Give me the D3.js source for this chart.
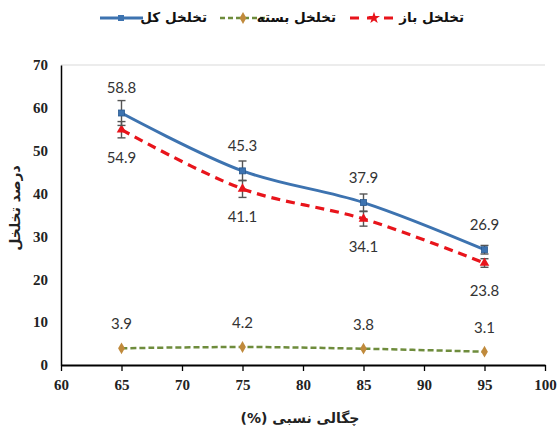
<!DOCTYPE html>
<html><head><meta charset="utf-8">
<script src="https://cdn.jsdelivr.net/npm/d3@7"></script>
<style>body{margin:0;background:#fff}svg{display:block}</style>
</head><body>
<script>
const densities = [65, 75, 85, 95];
const totalPorosity = [58.8, 45.3, 37.9, 26.9];
const totalErr = [2.9, 2.3, 2.0, 1.0];
const openPorosity = [54.9, 41.1, 34.1, 23.8];
const openErr = [1.9, 2.0, 1.7, 1.0];
const closedPorosity = [3.9, 4.2, 3.8, 3.1];
const xTicks = [60, 65, 70, 75, 80, 85, 90, 95, 100];
const yTicks = [0, 10, 20, 30, 40, 50, 60, 70];
const seriesNames = ["تخلخل کل", "تخلخل بسته", "تخلخل باز"];

const W = 560, H = 435;
const svg = d3.select("body").append("svg").attr("width", W).attr("height", H);
const x = d3.scaleLinear().domain([60, 100]).range([61, 545]);
const y = d3.scaleLinear().domain([0, 70]).range([365, 65]);

const serif = "'Liberation Serif','Times New Roman',serif";
const lab = "Lato,'Open Sans',sans-serif";
const fa = "'DejaVu Sans',sans-serif";

// top light line
svg.append("line").attr("x1", x(60)).attr("x2", x(100)).attr("y1", y(70)).attr("y2", y(70))
  .attr("stroke", "#d9d9d9").attr("stroke-width", 1);

// y axis
const ya = svg.append("g").attr("transform", `translate(${x(60)},0)`)
  .call(d3.axisLeft(y).tickValues(yTicks).tickSize(0).tickPadding(13));
ya.select(".domain").attr("stroke", "#000").attr("stroke-width", 1.5);
ya.selectAll("text").attr("font-family", serif).attr("font-weight", "bold")
  .attr("font-size", 15).attr("fill", "#222");

// x axis
const xa = svg.append("g").attr("transform", `translate(0,${y(0)})`)
  .call(d3.axisBottom(x).tickValues(xTicks).tickSizeInner(6).tickSizeOuter(0).tickPadding(8));
xa.select(".domain").attr("stroke", "#000").attr("stroke-width", 2.2);
xa.selectAll(".tick line").attr("stroke", "#000").attr("stroke-width", 1.3);
xa.selectAll("text").attr("font-family", serif).attr("font-weight", "bold")
  .attr("font-size", 15).attr("fill", "#222");

// axis titles
svg.append("text").attr("x", 300).attr("y", 423).attr("text-anchor", "middle")
  .attr("font-family", fa).attr("font-weight", "bold").attr("font-size", 14)
  .attr("fill", "#222").attr("direction", "rtl").text("چگالی نسبی (%)");
svg.append("text").attr("transform", "translate(20,208) rotate(-90)").attr("text-anchor", "middle")
  .attr("font-family", fa).attr("font-weight", "bold").attr("font-size", 14)
  .attr("fill", "#222").attr("direction", "rtl").text("درصد تخلخل");

const line = d3.line().x((d, i) => x(densities[i])).y(d => y(d)).curve(d3.curveCatmullRom.alpha(0.5));

// error bars
function errBars(vals, errs) {
  const g = svg.append("g");
  vals.forEach((v, i) => {
    const cx = x(densities[i]);
    g.append("line").attr("x1", cx).attr("x2", cx).attr("y1", y(v - errs[i])).attr("y2", y(v + errs[i]))
      .attr("stroke", "#555").attr("stroke-width", 1.4);
    [v - errs[i], v + errs[i]].forEach(e => g.append("line").attr("x1", cx - 4).attr("x2", cx + 4)
      .attr("y1", y(e)).attr("y2", y(e)).attr("stroke", "#555").attr("stroke-width", 1.4));
  });
}

const blue = "#3d73b0", red = "#e8141b", green = "#6e8c3c", brown = "#c08a3c";

// closed
svg.append("path").attr("d", line(closedPorosity)).attr("fill", "none").attr("stroke", green)
  .attr("stroke-width", 2.5).attr("stroke-dasharray", "6,3");
closedPorosity.forEach((v, i) => svg.append("path")
  .attr("d", d3.symbol(d3.symbolDiamond, 40)()).attr("transform", `translate(${x(densities[i])},${y(v)})`)
  .attr("fill", brown));

// open
svg.append("path").attr("d", line(openPorosity)).attr("fill", "none").attr("stroke", red)
  .attr("stroke-width", 3.2).attr("stroke-dasharray", "9,6");
errBars(openPorosity, openErr);
openPorosity.forEach((v, i) => svg.append("path")
  .attr("d", d3.symbol(d3.symbolTriangle, 40)()).attr("transform", `translate(${x(densities[i])},${y(v)})`)
  .attr("fill", red));

// total
svg.append("path").attr("d", line(totalPorosity)).attr("fill", "none").attr("stroke", blue)
  .attr("stroke-width", 3);
errBars(totalPorosity, totalErr);
totalPorosity.forEach((v, i) => svg.append("rect")
  .attr("x", x(densities[i]) - 3).attr("y", y(v) - 3).attr("width", 6).attr("height", 6)
  .attr("fill", blue).attr("stroke", "#2a5a90").attr("stroke-width", 0.8));

// data labels
function labels(vals, dy) {
  vals.forEach((v, i) => svg.append("text").attr("x", x(densities[i])).attr("y", y(v) + dy)
    .attr("text-anchor", "middle").attr("font-family", lab).attr("font-size", 15).attr("fill", "#333")
    .text(v.toFixed(1)));
}
labels(totalPorosity, -20);
labels(openPorosity, 33);
labels(closedPorosity, -19);

// legend
const lg = svg.append("g").attr("font-family", fa).attr("font-weight", "bold")
  .attr("font-size", 13.5).attr("fill", "#111");
// total
lg.append("line").attr("x1", 100).attr("x2", 143).attr("y1", 18).attr("y2", 18).attr("stroke", blue).attr("stroke-width", 3);
lg.append("rect").attr("x", 118).attr("y", 15).attr("width", 6).attr("height", 6).attr("fill", blue);
lg.append("text").attr("x", 207).attr("y", 22).attr("text-anchor", "start").attr("direction", "rtl").text(seriesNames[0]);
// closed
lg.append("line").attr("x1", 220).attr("x2", 265).attr("y1", 18).attr("y2", 18).attr("stroke", green)
  .attr("stroke-width", 2.5).attr("stroke-dasharray", "5,3");
lg.append("path").attr("d", d3.symbol(d3.symbolDiamond, 40)()).attr("transform", "translate(243,18)").attr("fill", brown);
lg.append("text").attr("x", 336).attr("y", 22).attr("text-anchor", "start").attr("direction", "rtl").text(seriesNames[1]);
// open
lg.append("line").attr("x1", 350).attr("x2", 398).attr("y1", 18).attr("y2", 18).attr("stroke", red)
  .attr("stroke-width", 3.2).attr("stroke-dasharray", "9,8");
lg.append("path").attr("d", d3.symbol(d3.symbolStar, 45)()).attr("transform", "translate(374,18)").attr("fill", red);
lg.append("text").attr("x", 464).attr("y", 22).attr("text-anchor", "start").attr("direction", "rtl").text(seriesNames[2]);
</script>
</body></html>
